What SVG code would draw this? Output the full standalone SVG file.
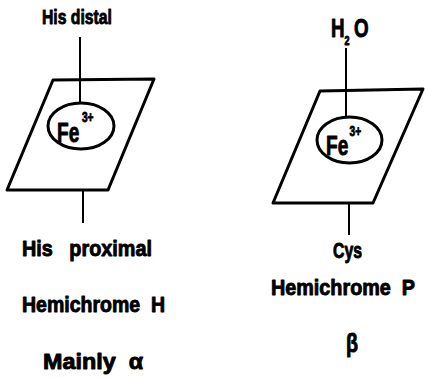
<svg xmlns="http://www.w3.org/2000/svg" width="426" height="377" viewBox="0 0 426 377">
<style>
text{font-family:"Liberation Sans",Arial,sans-serif;font-weight:bold;fill:#000;stroke:#000;stroke-width:0.9;stroke-linejoin:round;white-space:pre}
.lbl{font-size:22px}
.fe{font-size:28px}
.plane{fill:none;stroke:#000;stroke-width:3;stroke-linejoin:round}
.ring{fill:#fff;stroke:#000;stroke-width:3}
.bond{stroke:#000;stroke-width:2;fill:none}
</style>
<rect width="426" height="377" fill="#fff"/>
<g id="connectors">
<line class="bond" x1="80" y1="37" x2="80" y2="103"/>
<line class="bond" x1="83" y1="190" x2="83" y2="223"/>
<line class="bond" x1="346" y1="48" x2="346" y2="117"/>
<line class="bond" x1="349" y1="203" x2="349" y2="235"/>
</g>
<g id="heme-left">
<polygon class="plane" points="53,80 154,79 108,190 7,190"/>
</g>
<g id="fe-left">
<ellipse class="ring" cx="81" cy="126" rx="33" ry="23"/>
<text class="fe" transform="translate(57,142) scale(0.68,1)">Fe<tspan style="font-size:15px" dx="4" dy="-20">3+</tspan></text>
</g>
<g id="heme-right">
<polygon class="plane" points="320,91 423,89 373,203 273,203"/>
</g>
<g id="fe-right">
<ellipse class="ring" cx="349.5" cy="140" rx="32.5" ry="23"/>
<text class="fe" transform="translate(326,155) scale(0.68,1)">Fe<tspan style="font-size:15px" dx="2" dy="-19">3+</tspan></text>
</g>
<g id="his-distal">
<text style="font-size:21px" x="42" y="24" textLength="70" lengthAdjust="spacingAndGlyphs">His distal</text>
</g>
<g id="water">
<text style="font-size:25px" transform="translate(331,37) scale(0.75,1)">H<tspan style="font-size:12px" dy="8">2</tspan><tspan dx="6" dy="-8">O</tspan></text>
</g>
<g id="his-proximal">
<text class="lbl" xml:space="preserve" x="22" y="256" textLength="130" lengthAdjust="spacingAndGlyphs">His   proximal</text>
</g>
<g id="cys">
<text class="lbl" x="333" y="258" textLength="29" lengthAdjust="spacingAndGlyphs">Cys</text>
</g>
<g id="hemichrome-h">
<text class="lbl" xml:space="preserve" x="22" y="312" textLength="143" lengthAdjust="spacingAndGlyphs">Hemichrome  H</text>
</g>
<g id="hemichrome-p">
<text class="lbl" xml:space="preserve" transform="translate(271,295) scale(0.9,1)">Hemichrome  P</text>
</g>
<g id="mainly-alpha">
<text class="lbl" xml:space="preserve" x="43" y="369" textLength="100" lengthAdjust="spacingAndGlyphs">Mainly  α</text>
</g>
<g id="beta">
<text style="font-size:26px" x="346" y="352" textLength="12" lengthAdjust="spacingAndGlyphs">β</text>
</g>
</svg>
